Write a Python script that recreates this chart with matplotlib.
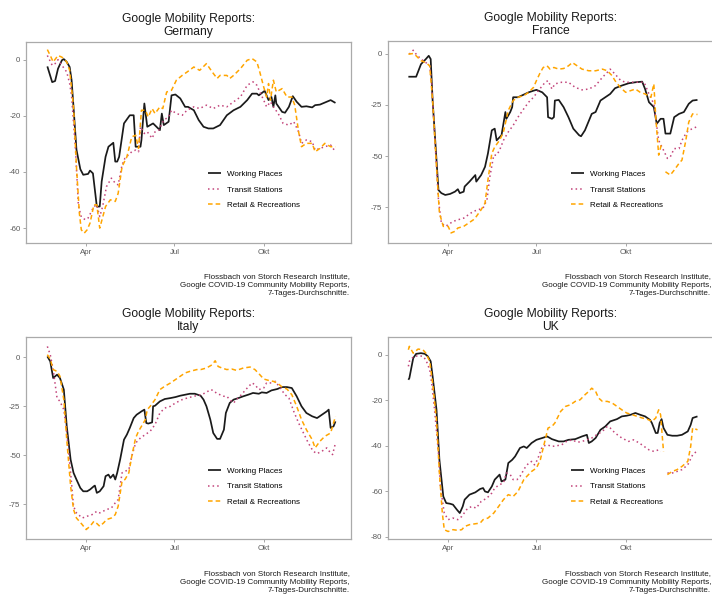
import numpy as np
import pandas as pd
import matplotlib
matplotlib.use("Agg")
import matplotlib.pyplot as plt

plt.rcParams['font.family'] = ['Liberation Sans', 'DejaVu Sans']

# ---------------- data (day = days since 2020-01-01) ----------------
nan = np.nan
# Germany
de_work_d = [51,56,59,62,66,68,71,74,76,78,81,85,88,93,95,98,100,102,105,107,111,114,119,121,123,125,130,136,140,142,147,148,151,154,160,167,169,171,176,179,183,188,193,196,202,207,212,217,222,229,236,243,250,257,262,267,269,275,279,282,284,286,287,293,296,300,304,308,313,318,324,327,332,343,348]
de_work_v = [-2.4,-8,-7.6,-3.2,-0.2,0.2,-0.8,-2.6,-7.3,-17,-32,-39,-41,-40.7,-39.5,-40.5,-46.4,-52.3,-52.3,-43.4,-34.6,-31,-29.6,-36.3,-36.3,-34.6,-22.7,-19.8,-19.8,-31,-31,-28.6,-15.6,-23.9,-22.7,-25.1,-19.2,-23.3,-22.1,-12.7,-12.4,-13.8,-16.8,-16.8,-18,-21.5,-23.9,-24.5,-24.5,-23.3,-19.8,-18,-16.8,-14.4,-12.1,-12.1,-12.7,-11.1,-14.4,-13.3,-16.8,-12.7,-15.6,-18.6,-18.9,-16.8,-13,-15,-16.8,-16.6,-17,-16.2,-16,-14.4,-15.4]
de_tran_d = [51,56,59,62,66,71,74,76,80,83,86,90,93,99,102,105,108,112,117,121,124,128,131,138,142,145,147,151,154,159,162,166,171,176,179,184,190,195,202,208,215,222,229,236,243,250,257,263,267,270,274,277,281,284,289,294,300,305,310,313,318,324,327,332,337,343,348]
de_tran_v = [1.5,-2,-1.4,0,-2,-4.4,-8.5,-13,-32,-52,-56,-57,-56.4,-52.3,-51.7,-55.9,-52.3,-45.2,-42.2,-44,-44.6,-37.5,-35.1,-32.8,-32.2,-32.8,-23.9,-26.3,-25.7,-28,-25.7,-25.1,-21.5,-20.4,-18,-19.2,-19.8,-18,-16.8,-17.4,-16.2,-17.4,-16.2,-16.8,-15,-13.3,-9.1,-7.9,-9.1,-11.5,-14.4,-16.8,-15,-16.8,-19.2,-22.7,-23.3,-22.1,-25.7,-29.8,-28.6,-29.2,-32.2,-31.6,-31,-30.4,-32.8]
de_reta_d = [51,54,57,62,66,71,74,78,81,84,86,89,92,95,99,102,105,111,116,121,124,128,133,138,142,145,148,152,155,159,162,167,170,174,179,184,190,195,202,208,215,221,226,229,236,239,243,250,257,262,267,270,274,277,279,281,284,287,293,298,303,306,310,313,318,324,327,332,337,343,348]
de_reta_v = [3.6,1.5,-0.8,1.5,0.9,-0.8,-3.8,-16.8,-38.1,-54.7,-60.6,-61.8,-60.6,-58.2,-51.7,-51.7,-60,-52.3,-49.9,-50.5,-47.6,-38.1,-34.6,-27.5,-26.9,-31.6,-18,-18,-20.4,-17.4,-19.2,-16.8,-17.4,-11.5,-10.9,-7.3,-5.6,-4.4,-2.6,-3.8,-1.4,-4.4,-6.7,-5.6,-5.6,-6.7,-5.6,-3.2,-0.2,0.4,-0.8,-4.4,-9.7,-13.3,-8.5,-14.4,-7.3,-11.5,-10.3,-13.3,-13.3,-16.2,-25.7,-31,-29.8,-29.8,-32.8,-31.6,-29.8,-31,-31]

# France
fr_work_d = [50,58,63,68,71,73,75,79,81,84,88,93,98,101,103,107,108,113,119,120,125,129,132,136,139,141,146,150,151,155,157,158,163,169,174,179,182,188,193,194,198,200,201,205,210,215,220,226,228,232,239,243,248,253,258,263,270,277,284,291,294,298,303,306,310,313,315,320,324,329,334,339,343,348]
fr_work_v = [-11.3,-11.3,-5.2,-2.7,-1.1,-2.7,-22.9,-51.9,-66.5,-68,-68.9,-68.4,-67.3,-66.1,-68,-67.3,-64.8,-62.4,-59.2,-62.4,-59.2,-55.2,-48.7,-37.4,-36.6,-42.3,-39.8,-28.5,-31.8,-28.5,-26.1,-21.3,-21.3,-20,-18.9,-18.1,-17.7,-18.9,-21.3,-31,-31.8,-31,-22.9,-22.6,-26.1,-31,-36.6,-39.8,-40.3,-37.4,-29.4,-28.5,-22.9,-21.3,-19.7,-16.9,-15.6,-14.5,-14,-13.7,-17.3,-23.7,-26.1,-34.2,-31.8,-31.8,-39,-39,-31,-29.4,-28.5,-24.5,-22.9,-22.6]
fr_tran_d = [51,55,58,63,68,72,74,77,81,84,88,91,96,101,107,112,117,122,127,131,134,138,141,144,148,153,158,163,169,174,179,184,191,194,198,201,208,215,222,229,236,243,250,255,258,263,269,274,281,288,293,298,303,308,313,317,320,324,329,332,336,339,343,348]
fr_tran_v = [-0.3,1.6,-0.3,-2.7,-4.4,-6,-14.8,-39,-71.3,-82.6,-84.2,-83.4,-81.8,-81,-80.2,-78.5,-76.9,-76.1,-75.3,-71.3,-60,-49.5,-49.5,-47.1,-42.3,-38.2,-35,-31,-26.9,-23.7,-21.3,-18.1,-14,-13.2,-17.3,-14.8,-14,-14,-16.5,-17.7,-17.3,-15.6,-11.6,-9.2,-7.6,-10,-13.2,-14,-14,-14,-14,-19.7,-24.5,-42.3,-47.1,-51.1,-50.3,-46.3,-46.3,-42.3,-39,-37.4,-36.6,-35.5]
fr_reta_d = [50,55,58,63,68,72,75,79,82,86,91,94,98,101,107,112,117,120,125,129,132,136,139,144,148,153,158,163,169,174,179,182,186,189,193,196,200,205,210,215,219,224,229,236,243,250,255,260,263,269,274,279,284,289,294,300,303,305,308,311,313,315,320,324,329,332,336,339,343,348]
fr_reta_v = [-0.3,0,-1.1,-3.5,-4.4,-6,-22.9,-55.2,-77.7,-84.2,-84.2,-87.4,-86.6,-85,-84.2,-82.6,-81,-79.4,-76.1,-72.9,-61.6,-48.7,-45.5,-42.3,-38.2,-27.7,-22.9,-21.3,-20.5,-18.9,-16.5,-13.2,-9.2,-6.8,-6,-7.6,-6.8,-7.6,-7.3,-6,-4.4,-6,-7.6,-8.4,-8.4,-7.6,-8.4,-10.8,-13.2,-16.8,-18.9,-18.1,-17.3,-18.9,-19.7,-21.3,-14.8,-31,-49.5,-43.9,nan,-57.6,-59.2,-56.8,-53.5,-51.9,-42.3,-33.4,-29.4,-29.7]

# Italy
it_work_d = [51,54,57,61,64,68,71,75,78,81,85,88,92,95,99,100,102,105,109,111,114,116,119,121,123,126,130,133,136,140,143,148,151,153,155,159,160,162,167,172,178,183,188,193,198,203,209,212,215,219,222,226,229,233,235,239,243,248,253,258,263,269,272,277,282,288,293,298,303,308,313,318,324,329,334,339,341,343,346,348]
it_work_v = [0.3,-2.2,-10.7,-9,-10.7,-16.6,-35.3,-52.3,-59,-62.4,-66.7,-68.4,-68.4,-67.5,-65.8,-65.5,-69.2,-68.4,-65.8,-60.7,-59.9,-61.6,-59.9,-62.4,-59,-52.3,-42.1,-39.5,-36.1,-31.1,-29.4,-27.7,-26.8,-33.6,-33.9,-33.3,-25.1,-24.8,-22.6,-21.4,-20.9,-20.4,-19.7,-19.2,-18.7,-18.7,-19.7,-21.7,-25.1,-31.9,-38.7,-41.7,-41.7,-37,-28.5,-23.4,-21.7,-20.9,-20,-19.2,-18.3,-18.7,-18,-18.3,-17,-16.3,-15.3,-15.3,-15.8,-20,-25.1,-28.5,-30.2,-31.1,-29.4,-27.7,-26.8,-36.1,-35.3,-32.8]
it_tran_d = [51,54,57,61,64,68,71,75,78,81,87,92,97,102,105,112,117,121,124,128,131,135,138,142,147,152,157,162,167,172,178,183,190,195,202,209,214,219,222,226,229,233,236,239,243,246,251,257,262,265,269,274,277,282,286,291,296,300,305,310,315,320,325,329,334,339,343,345,348]
it_tran_v = [5.4,1.2,-6.4,-20.9,-22.6,-26.8,-38.7,-59,-76,-79.4,-82,-81.1,-80.3,-78.6,-79.4,-77.7,-76.9,-74.3,-72.6,-59,-58.2,-57.4,-50.6,-43.8,-41.2,-39.5,-37.8,-34.4,-28.5,-26,-25.1,-23.4,-21.7,-20.9,-20,-19.2,-18.3,-16.6,-17,-18.7,-19.2,-20,-20,-21.7,-23.4,-21.7,-19.2,-15.8,-13.2,-14.1,-16.6,-15.8,-13.2,-13.2,-12.4,-15.8,-19.2,-20.9,-27.7,-33.6,-38.7,-43.8,-48,-49.2,-48,-46.3,-48.9,-49.7,-43.8]
it_reta_d = [51,54,57,61,64,68,71,75,78,81,87,91,95,99,102,105,109,112,117,121,124,128,131,135,138,142,145,148,152,154,157,162,167,172,178,183,188,193,198,205,209,215,221,224,227,231,236,241,246,253,260,265,270,274,279,284,288,293,298,303,308,313,318,324,327,332,337,343,346,348]
it_reta_v = [1.2,-1,-6.4,-7.3,-9.8,-21.7,-42.1,-65.8,-77.7,-82,-85.4,-87.9,-86.2,-83.7,-84.8,-86.2,-84.5,-82.8,-82,-80.3,-76,-63.3,-62.4,-59,-50.6,-41.2,-37.8,-35.3,-31.9,-26.8,-25.1,-21.7,-16.6,-14.9,-13.2,-11.5,-9.8,-8.1,-7.3,-6.4,-6.4,-5.6,-3.9,-1.9,-4.8,-5.6,-6.4,-6.1,-6.8,-5.6,-5.1,-6.4,-9,-11.2,-11.9,-12.4,-13.2,-15.3,-16.3,-19.2,-25.1,-31.9,-37,-42.1,-46.3,-42.9,-40.4,-38.7,-33.6,-30.2]

# UK
uk_work_d = [50,51,55,58,63,67,70,73,75,79,82,86,89,93,96,100,103,106,108,113,119,124,127,129,132,136,139,144,146,150,153,157,160,165,169,172,177,182,188,193,198,205,210,215,222,229,234,236,239,243,248,253,258,265,270,275,279,284,289,294,299,301,305,307,309,311,313,317,322,327,332,338,341,343,348]
uk_work_v = [-11,-10.3,-1.5,0.4,0.7,0.4,-0.7,-2.9,-9.5,-24.2,-46.2,-62.3,-65.2,-65.5,-65.9,-68.1,-69.6,-66.7,-63.7,-61.5,-60.5,-59,-58.6,-60.1,-60.5,-57.9,-54.9,-52.7,-55.7,-54.9,-47.6,-46.2,-44.7,-41,-40.3,-41,-38.8,-37.4,-36.6,-35.9,-37.1,-38.1,-38.1,-37.4,-37.1,-35.9,-35.2,-38.8,-38.1,-36.6,-33,-31.5,-29.3,-28.3,-27.1,-26.8,-26.4,-25.6,-26.4,-27.1,-28.6,-30,-34.4,-34.4,-30,-28.3,-32.2,-35.2,-35.6,-35.6,-35.2,-33.7,-30.8,-27.8,-27.1]
uk_tran_d = [50,51,55,60,65,68,72,74,77,81,83,87,91,96,101,105,110,115,120,125,131,136,139,144,148,151,155,158,162,165,170,174,177,180,183,188,193,198,203,208,213,219,224,229,234,239,244,250,255,258,263,270,277,282,288,293,298,303,308,310,313,317,322,327,332,338,343,348]
uk_tran_v = [-5.1,-2.9,-1,-0.4,-0.7,-2.2,-6.6,-12.5,-24.2,-43.2,-57.9,-69.6,-72.5,-71.8,-72.5,-71.1,-68.1,-66.7,-67.4,-64.5,-63,-60.8,-58.6,-57.1,-56.4,-52,-52.7,-54.9,-54.9,-53.5,-49.8,-47.6,-46.9,-48.4,-46.2,-40.3,-39.6,-40.3,-40,-39.6,-38.1,-37.4,-38.5,-38.1,-37.4,-36.6,-35.2,-33.7,-31.5,-32.2,-34.4,-36.6,-38.1,-37.4,-38.8,-40.3,-41.8,-42.5,-41.8,-42.5,nan,-52,-52,-51.3,-50.5,-48.4,-44,-42.1]
uk_reta_d = [50,51,55,60,65,68,72,75,79,82,85,87,91,96,101,105,108,113,119,124,127,132,138,143,148,153,158,163,169,172,177,182,186,191,194,198,201,207,212,217,222,227,232,236,239,243,246,250,255,260,265,270,275,281,286,291,296,301,305,308,310,312,313,315,317,322,327,332,338,341,343,348]
uk_reta_v = [2.2,3.7,0.7,2.5,2.2,0.7,-2.9,-12.5,-28.6,-52,-69.6,-76.9,-77.7,-76.9,-77.2,-76.9,-75.5,-74.7,-74.3,-74,-72.5,-71.8,-69.6,-66.7,-63.7,-61.5,-62.3,-60.1,-54.9,-53.5,-51.3,-49.8,-46.2,-37.4,-32.2,-31.5,-30,-24.9,-22.7,-22,-20.5,-19.8,-17.6,-16.1,-14.7,-16.1,-19,-20.5,-20.5,-21.2,-22.7,-24.2,-25.6,-26.4,-27.1,-27.8,-28.3,-29.3,-27.8,-24.2,-26.4,-37.4,-42.5,nan,-52.7,-51.3,-50.5,-49.1,-46.9,-40.3,-32.2,-33]

series_labels = ["Working Places", "Transit Stations", "Retail & Recreations"]
tick_dates = ["2020-04-01", "2020-07-01", "2020-10-01"]
tick_labels = ["Apr", "Jul", "Okt"]
de_yticks = [0, -20, -40, -60]
fr_yticks = [0, -25, -50, -75]
it_yticks = [0, -25, -50, -75]
uk_yticks = [0, -20, -40, -60, -80]
caption = ("Flossbach von Storch Research Institute,\n"
           "Google COVID-19 Community Mobility Reports,\n"
           "7-Tages-Durchschnitte.")

# ---------------- styling ----------------
BASE = pd.Timestamp("2020-01-01")
def to_dates(days):
    return BASE + pd.to_timedelta(np.asarray(days, dtype=float), unit="D")

W, H = 712, 595
fig = plt.figure(figsize=(W / 100, H / 100), dpi=100)

col_work = "#1a1a1a"
col_tran = "#c2447a"
col_reta = "#ffa500"
styles = [dict(color=col_work, lw=1.25, ls="-"),
          dict(color=col_tran, lw=1.1, ls=(0, (1, 2))),
          dict(color=col_reta, lw=1.1, ls=(0, (3, 2)))]

panels = [
    dict(name="Germany", left=26, top=42, bottom=243, ylim=(-65.3, 6.3), yt=de_yticks,
         data=[(de_work_d, de_work_v), (de_tran_d, de_tran_v), (de_reta_d, de_reta_v)],
         leg=(208, 189.7), cap=(350, 285)),
    dict(name="France", left=388, top=41, bottom=243, ylim=(-92.3, 6.1), yt=fr_yticks,
         data=[(fr_work_d, fr_work_v), (fr_tran_d, fr_tran_v), (fr_reta_d, fr_reta_v)],
         leg=(571, 189.7), cap=(711, 285)),
    dict(name="Italy", left=26, top=337, bottom=539, ylim=(-92.7, 10.2), yt=it_yticks,
         data=[(it_work_d, it_work_v), (it_tran_d, it_tran_v), (it_reta_d, it_reta_v)],
         leg=(208, 486.5), cap=(350, 582)),
    dict(name="UK", left=388, top=337, bottom=539, ylim=(-81, 7.8), yt=uk_yticks,
         data=[(uk_work_d, uk_work_v), (uk_tran_d, uk_tran_v), (uk_reta_d, uk_reta_v)],
         leg=(571, 486.5), cap=(711, 582)),
]

xlim = (to_dates([29])[0], to_dates([364])[0])
width_px = 325

for p in panels:
    ax = fig.add_axes([p["left"] / W, 1 - p["bottom"] / H, width_px / W,
                       (p["bottom"] - p["top"]) / H])
    handles = []
    for (d, v), st, lab in zip(p["data"], styles, series_labels):
        ln, = ax.plot(to_dates(d), v, label=lab, solid_capstyle="butt",
                      dash_capstyle="butt", **st)
        handles.append(ln)
    ax.set_xlim(*xlim)
    ax.set_ylim(*p["ylim"])
    ax.set_yticks(p["yt"])
    ax.set_yticklabels([str(t) for t in p["yt"]])
    ax.set_xticks(pd.to_datetime(tick_dates))
    ax.set_xticklabels(tick_labels)
    ax.tick_params(length=2, width=0.6, color="#999999", labelcolor="#5a5a5a",
                   labelsize=5.7, pad=2)
    for s in ax.spines.values():
        s.set_color("#aaaaaa")
        s.set_linewidth(0.9)
    ax.set_title("Google Mobility Reports:\n" + p["name"], fontsize=8.7,
                 linespacing=1.1, pad=5, color="#1a1a1a")
    lx, ly = p["leg"]
    ax.legend(handles=handles, loc="center left",
              bbox_to_anchor=(lx / W, 1 - ly / H), bbox_transform=fig.transFigure,
              frameon=False, fontsize=5.8, handlelength=1.65, handletextpad=0.65,
              labelspacing=0.95, borderpad=0, borderaxespad=0)
    cx, cy = p["cap"]
    fig.text(cx / W, 1 - cy / H, caption, ha="right", va="center", fontsize=5.8,
             linespacing=1.3, color="#1a1a1a")

fig.savefig("out.png", dpi=100)
